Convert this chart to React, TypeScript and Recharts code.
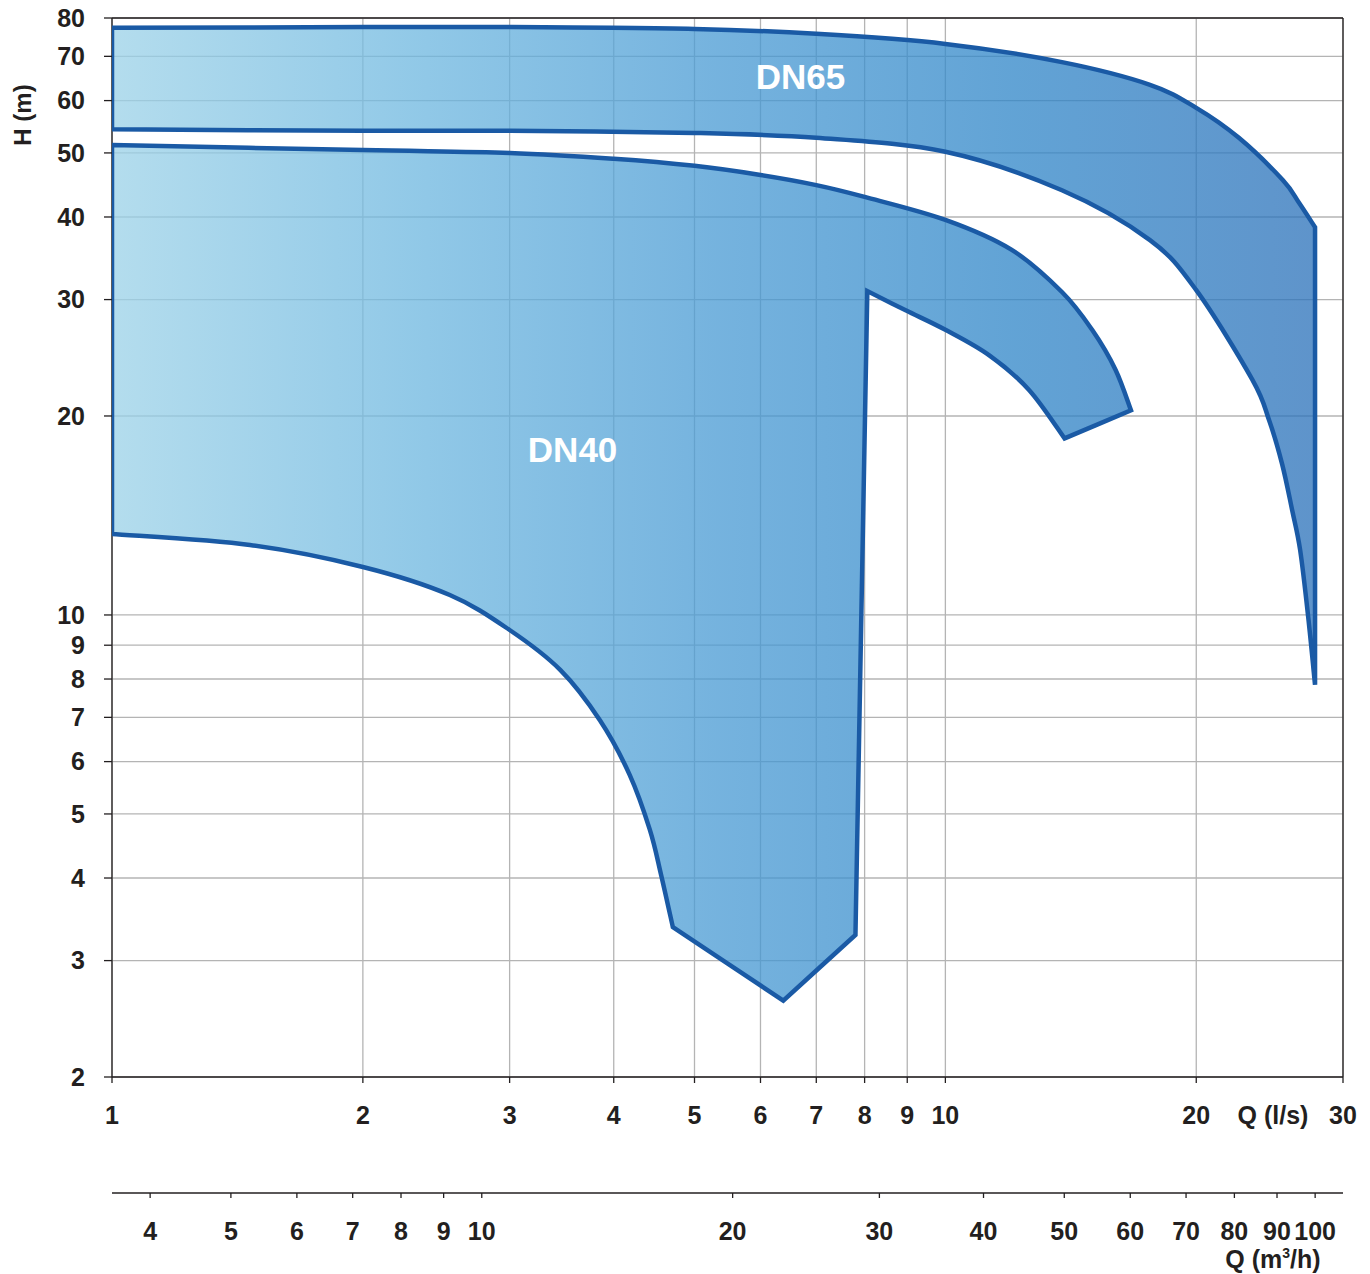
import {
  ComposedChart,
  Scatter,
  XAxis,
  YAxis,
  CartesianGrid,
  ReferenceLine,
  ReferenceDot,
  Label
} from 'recharts'

const FONT = '"Liberation Sans", Arial, Helvetica, sans-serif'
const INK = '#231f20'
const EDGE = '#1a5aa5'
const GRID = '#b4b4b4'

// axis ticks: flow in l/s, flow in m3/h, head in m
const LS_TICKS = [1, 2, 3, 4, 5, 6, 7, 8, 9, 10, 20, 30]
const M3H_TICKS = [4, 5, 6, 7, 8, 9, 10, 20, 30, 40, 50, 60, 70, 80, 90, 100]
const H_TICKS = [2, 3, 4, 5, 6, 7, 8, 9, 10, 20, 30, 40, 50, 60, 70, 80]
const LS_TO_M3H = 3.6

// DN65 working range: upper limit curve, then lower limit curve back to Q = 1
const DN65_TOP_Q = [1, 2, 3, 5, 7, 10, 13.8, 17.6, 20, 22.5, 25.4, 26.58, 27.77]
const DN65_TOP_H = [77.3, 77.5, 77.5, 77.0, 75.7, 73.1, 68.6, 63.4, 58.5, 52.7, 45.5, 42.0, 38.6]
const DN65_BOTTOM_Q = [27.77, 27.25, 26.65, 26.07, 25.36, 24.46, 23.35, 20, 17.6, 13.8, 10, 7, 5, 3, 2, 1]
const DN65_BOTTOM_H = [7.84, 9.93, 12.54, 14.4, 16.9, 19.7, 22.7, 31.0, 36.9, 43.9, 50.2, 52.7, 53.6, 54.0, 54.0, 54.3]

// DN40 working range: upper curve, inner curve, notch corners, lower curve
const DN40_TOP_Q = [1, 2, 3, 4, 5, 6, 7, 8, 10, 12, 13.8, 15, 16, 16.7]
const DN40_TOP_H = [51.4, 50.5, 50.0, 49.0, 47.8, 46.3, 44.7, 42.9, 39.6, 35.7, 30.8, 27.0, 23.5, 20.4]
const DN40_INNER_Q = [13.9, 12.6, 11.29, 10, 8.96, 8.06]
const DN40_INNER_H = [18.5, 21.9, 24.7, 27.0, 28.9, 30.9]
const DN40_NOTCH_Q = [7.8, 6.39]
const DN40_NOTCH_H = [3.28, 2.61]
const DN40_BOTTOM_Q = [4.71, 4.56, 4.42, 4.18, 3.85, 3.45, 3.0, 2.543, 2.0, 1.464, 1]
const DN40_BOTTOM_H = [3.37, 4.04, 4.73, 5.73, 6.93, 8.26, 9.49, 10.72, 11.82, 12.76, 13.26]

type Pt = { q: number; h: number }
type XY = { x: number; y: number }

const zip = (qs: number[], hs: number[]): Pt[] => qs.map((q, i) => ({ q, h: hs[i] }))

// A shape is a list of runs: points inside a run are joined by a smooth
// curve, consecutive runs are joined by straight edges.
const buildShape = (runs: Pt[][]) => {
  const points: Pt[] = []
  const breaks: number[] = []
  runs.forEach((run) => {
    breaks.push(points.length)
    points.push(...run)
    breaks.push(points.length - 1)
  })
  points.push(points[0])
  breaks.push(points.length - 1)
  return { points, breaks: Array.from(new Set(breaks)).sort((a, b) => a - b) }
}

const dn65 = buildShape([zip(DN65_TOP_Q, DN65_TOP_H), zip(DN65_BOTTOM_Q, DN65_BOTTOM_H)])
const dn40 = buildShape([
  zip(DN40_TOP_Q, DN40_TOP_H),
  zip(DN40_INNER_Q, DN40_INNER_H),
  ...zip(DN40_NOTCH_Q, DN40_NOTCH_H).map((p) => [p]),
  zip(DN40_BOTTOM_Q, DN40_BOTTOM_H)
])

// same envelope expressed in m3/h, keeps the second flow axis scaled
const dn65M3h = dn65.points.map((p) => ({ m: p.q * LS_TO_M3H, h: p.h }))

// Catmull-Rom segments between break indices, straight where a run has two points
const smoothPath = (pts: XY[], breaks: number[]) => {
  const f = (v: number) => v.toFixed(2)
  let d = `M${f(pts[0].x)},${f(pts[0].y)}`
  for (let k = 0; k < breaks.length - 1; k++) {
    const a = breaks[k]
    const b = breaks[k + 1]
    for (let i = a; i < b; i++) {
      const p0 = pts[Math.max(i - 1, a)]
      const p1 = pts[i]
      const p2 = pts[i + 1]
      const p3 = pts[Math.min(i + 2, b)]
      const c1x = p1.x + (p2.x - p0.x) / 6
      const c1y = p1.y + (p2.y - p0.y) / 6
      const c2x = p2.x - (p3.x - p1.x) / 6
      const c2y = p2.y - (p3.y - p1.y) / 6
      d += `C${f(c1x)},${f(c1y)} ${f(c2x)},${f(c2y)} ${f(p2.x)},${f(p2.y)}`
    }
  }
  return d + 'Z'
}

const WIDTH = 1362
const HEIGHT = 1266
const MARGIN = { top: 10, right: 27, bottom: 1, left: 0 }
const Y_AXIS_W = 104
const PLOT_W = WIDTH - MARGIN.left - MARGIN.right - Y_AXIS_W

const tickStyle = { fontSize: 25, fontWeight: 700, fill: INK, fontFamily: FONT }

const outline = (breaks: number[]) => (props: any) => (
  <path
    d={smoothPath(props.points, breaks)}
    stroke={EDGE}
    strokeWidth={4.5}
    strokeLinejoin="miter"
    fill="url(#flowFill)"
    fillOpacity={0.76}
  />
)

const NoDot = () => <g />

export default function App() {
  return (
    <ComposedChart width={WIDTH} height={HEIGHT} margin={MARGIN}>
      <defs>
        <linearGradient
          id="flowFill"
          gradientUnits="userSpaceOnUse"
          x1={MARGIN.left + Y_AXIS_W}
          y1={0}
          x2={MARGIN.left + Y_AXIS_W + PLOT_W * 0.978}
          y2={0}
        >
          <stop offset="0%" stopColor="#9cd2e8" />
          <stop offset="25%" stopColor="#6fb8e0" />
          <stop offset="50%" stopColor="#4a9bd4" />
          <stop offset="75%" stopColor="#3086c8" />
          <stop offset="100%" stopColor="#2c72ba" />
        </linearGradient>
      </defs>

      <CartesianGrid xAxisId="ls" yAxisId="h" stroke={GRID} strokeWidth={1.3} />

      <XAxis
        xAxisId="ls"
        dataKey="q"
        type="number"
        scale="log"
        domain={[1, 30]}
        allowDataOverflow
        ticks={LS_TICKS}
        interval={0}
        height={116}
        tickSize={6}
        tickMargin={23}
        axisLine={{ stroke: INK, strokeWidth: 1.3 }}
        tickLine={{ stroke: INK, strokeWidth: 1.3 }}
        tick={tickStyle}
      >
        <Label
          content={({ viewBox }: any) => (
            <text
              x={viewBox.x + viewBox.width - 70}
              y={viewBox.y + 29}
              dy="0.71em"
              textAnchor="middle"
              {...tickStyle}
            >
              Q (l/s)
            </text>
          )}
        />
      </XAxis>

      <XAxis
        xAxisId="m3h"
        dataKey="m"
        type="number"
        scale="log"
        domain={[1 * LS_TO_M3H, 30 * LS_TO_M3H]}
        allowDataOverflow
        ticks={M3H_TICKS}
        interval={0}
        height={80}
        tickSize={5}
        tickMargin={24}
        axisLine={{ stroke: INK, strokeWidth: 1.3 }}
        tickLine={{ stroke: INK, strokeWidth: 1.3 }}
        tick={tickStyle}
      >
        <Label
          content={({ viewBox }: any) => (
            <text
              x={viewBox.x + viewBox.width - 70}
              y={viewBox.y + 57}
              dy="0.71em"
              textAnchor="middle"
              {...tickStyle}
            >
              <tspan>Q (m</tspan>
              <tspan dy={-10} fontSize={14}>3</tspan>
              <tspan dy={10}>/h)</tspan>
            </text>
          )}
        />
      </XAxis>

      <YAxis
        yAxisId="h"
        dataKey="h"
        type="number"
        scale="log"
        domain={[2, 80]}
        allowDataOverflow
        ticks={H_TICKS}
        interval={0}
        width={Y_AXIS_W}
        tickSize={8}
        tickMargin={19}
        axisLine={{ stroke: INK, strokeWidth: 1.3 }}
        tickLine={{ stroke: INK, strokeWidth: 1.3 }}
        tick={tickStyle}
      >
        <Label
          content={({ viewBox }: any) => (
            <text
              x={viewBox.x + 14}
              y={viewBox.y + 97}
              textAnchor="middle"
              dominantBaseline="central"
              transform={`rotate(-90 ${viewBox.x + 14} ${viewBox.y + 97})`}
              {...tickStyle}
              fontSize={24}
            >
              H (m)
            </text>
          )}
        />
      </YAxis>

      {/* frame on the top and right side */}
      <ReferenceLine xAxisId="ls" yAxisId="h" y={80} stroke={INK} strokeWidth={1.3} />
      <ReferenceLine xAxisId="ls" yAxisId="h" x={30} stroke={INK} strokeWidth={1.3} />

      <Scatter
        xAxisId="m3h"
        yAxisId="h"
        data={dn65M3h}
        shape={NoDot}
        legendType="none"
        isAnimationActive={false}
      />

      <Scatter
        xAxisId="ls"
        yAxisId="h"
        data={dn65.points}
        line={outline(dn65.breaks)}
        lineType="joint"
        shape={NoDot}
        isAnimationActive={false}
      />
      <Scatter
        xAxisId="ls"
        yAxisId="h"
        data={dn40.points}
        line={outline(dn40.breaks)}
        lineType="joint"
        shape={NoDot}
        isAnimationActive={false}
      />

      <ReferenceDot
        xAxisId="ls"
        yAxisId="h"
        x={6.7}
        y={65.2}
        r={0}
        stroke="none"
        label={{ value: 'DN65', position: 'center', fill: '#fff', fontSize: 35, fontWeight: 700, fontFamily: FONT }}
      />
      <ReferenceDot
        xAxisId="ls"
        yAxisId="h"
        x={3.57}
        y={17.8}
        r={0}
        stroke="none"
        label={{ value: 'DN40', position: 'center', fill: '#fff', fontSize: 35, fontWeight: 700, fontFamily: FONT }}
      />
    </ComposedChart>
  )
}
